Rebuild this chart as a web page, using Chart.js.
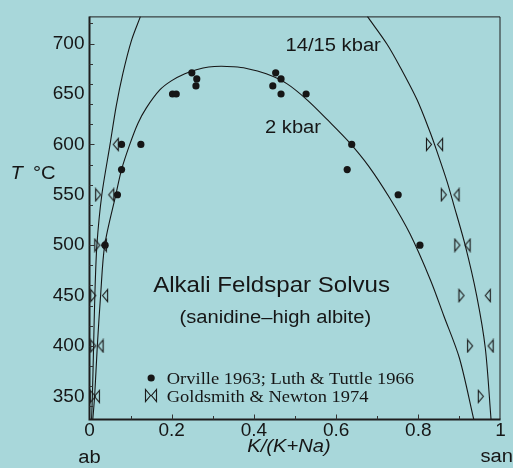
<!DOCTYPE html>
<html>
<head>
<meta charset="utf-8">
<script src="https://cdn.jsdelivr.net/npm/chart.js@4/dist/chart.umd.min.js"></script>
<style>
  html, body { margin: 0; padding: 0; background: #a8d7da; }
  #wrap { width: 513px; height: 468px; }
</style>
</head>
<body>
<div id="wrap"><canvas id="solvus" width="513" height="468"></canvas></div>
<script>
// Orville 1963; Luth & Tuttle 1966 — coexisting feldspar compositions
const orvilleK = [0.038, 0.068, 0.078, 0.078, 0.125, 0.202, 0.211, 0.249, 0.261, 0.259,
                  0.446, 0.453, 0.466, 0.466, 0.527, 0.638, 0.627, 0.751, 0.804];
const orvilleT = [500, 550, 575, 600, 600, 650, 650, 671, 665, 658,
                  658, 671, 665, 650, 650, 600, 575, 550, 500];

// Goldsmith & Newton 1974 reversal brackets (right- and left-pointing halves)
const gnRightK = [0.008, 0.009, 0.009, 0.019, 0.021, 0.952, 0.926, 0.905, 0.895, 0.862, 0.826];
const gnRightT = [350, 400, 450, 500, 550, 350, 400, 450, 500, 550, 600];
const gnLeftK  = [0.018, 0.027, 0.038, 0.035, 0.053, 0.064, 0.976, 0.969, 0.920, 0.893, 0.853];
const gnLeftT  = [350, 400, 450, 500, 550, 600, 400, 450, 500, 550, 600];

// 2 kbar solvus
const solvus2K = [0.008, 0.0125, 0.019, 0.027, 0.037, 0.064, 0.078, 0.098, 0.118, 0.138,
                  0.171, 0.199, 0.232, 0.260, 0.290, 0.320, 0.350, 0.380, 0.430, 0.480,
                  0.530, 0.580, 0.630, 0.680, 0.730, 0.780, 0.830, 0.862, 0.900, 0.935];
const solvus2T = [327, 350, 400, 450, 500, 550, 575, 600, 621, 636,
                  654, 663, 670, 674, 676.8, 677.6, 677, 675.5, 670, 660.3,
                  644, 624, 603, 578, 547, 511, 465, 430, 388, 327];

// 14/15 kbar solvus, Na-rich and K-rich limbs
const solvus15NaK = [0.005, 0.007, 0.010, 0.013, 0.018, 0.030, 0.050, 0.065, 0.081, 0.102, 0.124];
const solvus15NaT = [327, 350, 400, 450, 500, 550, 600, 638, 670, 703, 727];
const solvus15KK  = [0.676, 0.724, 0.756, 0.797, 0.829, 0.846, 0.870, 0.886, 0.914, 0.942, 0.963, 0.977];
const solvus15KT  = [727, 699.4, 676.6, 644.2, 611.8, 592.3, 563.1, 540.5, 500, 450, 398, 327];

// Axis ticks
const xTicks = [0, 0.2, 0.4, 0.6, 0.8, 1];
const xTickLabels = ['0', '0.2', '0.4', '0.6', '0.8', '1'];
const yTicks = [350, 400, 450, 500, 550, 600, 650, 700];
const yTickLabels = ['350', '400', '450', '500', '550', '600', '650', '700'];
const xTickMarks = [0.1, 0.2, 0.3, 0.4, 0.5, 0.6, 0.7, 0.8, 0.9];
const xMajorMarks = [0.2, 0.4, 0.6, 0.8];
const yTickMarks = [340, 360, 380, 400, 420, 440, 460, 480, 500, 520, 540, 560, 580,
                    600, 620, 640, 660, 680, 700, 720];
const yMajorMarks = [400, 500, 600, 700];

const INK = '#161616';
const SANS = '"Liberation Sans", Arial, Helvetica, sans-serif';
const SERIF = '"Liberation Serif", "Times New Roman", serif';
const SX = 1.12; // horizontal widening of annotation type

const toPts = (xs, ys) => xs.map((x, i) => ({ x: x, y: ys[i] }));

// open, narrow triangle markers
function triangle(dir) {
  const c = document.createElement('canvas');
  c.width = 8; c.height = 15;
  const g = c.getContext('2d');
  g.strokeStyle = '#1a1a1a';
  g.lineWidth = 1.15;
  g.beginPath();
  if (dir > 0) { g.moveTo(1.5, 1.5); g.lineTo(6.5, 7.5); g.lineTo(1.5, 13.5); }
  else         { g.moveTo(6.5, 1.5); g.lineTo(1.5, 7.5); g.lineTo(6.5, 13.5); }
  g.closePath();
  g.stroke();
  return c;
}
const triRight = triangle(1);
const triLeft = triangle(-1);

function wideText(ctx, str, x, y, font, align) {
  ctx.save();
  ctx.font = font;
  ctx.textBaseline = 'alphabetic';
  ctx.textAlign = 'left';
  const w = ctx.measureText(str).width * SX;
  const x0 = align === 'center' ? x - w / 2 : (align === 'right' ? x - w : x);
  ctx.translate(x0, y);
  ctx.scale(SX, 1);
  ctx.fillStyle = INK;
  ctx.fillText(str, 0, 0);
  ctx.restore();
}

// in-plot labels, placed in data coordinates (x = K/(K+Na), y = baseline T)
const notes = [
  { text: '14/15 kbar', x: 0.477, y: 692.7, font: '18px ' + SANS, align: 'left' },
  { text: '2 kbar', x: 0.427, y: 611.3, font: '18px ' + SANS, align: 'left' },
  { text: 'Alkali Feldspar Solvus', x: 0.443, y: 453.1, font: '21.5px ' + SANS, align: 'center' },
  { text: '(sanidine\u2013high albite)', x: 0.452, y: 422.9, font: '18px ' + SANS, align: 'center' },
  { text: 'Orville 1963; Luth & Tuttle 1966', x: 0.188, y: 362.4, font: '16.5px ' + SERIF, align: 'left' },
  { text: 'Goldsmith & Newton 1974', x: 0.188, y: 344.5, font: '16.5px ' + SERIF, align: 'left' }
];

const decor = {
  id: 'decor',
  beforeDraw(chart) {
    const ctx = chart.ctx;
    ctx.save();
    ctx.fillStyle = '#a8d7da';
    ctx.fillRect(0, 0, chart.width, chart.height);
    ctx.restore();
  },
  afterDatasetsDraw(chart) {
    const ctx = chart.ctx;
    const a = chart.chartArea;
    const xs = chart.scales.x, ys = chart.scales.y;

    // frame: heavier axes on left and bottom
    ctx.save();
    ctx.strokeStyle = '#1e1e1e';
    ctx.lineWidth = 1;
    ctx.beginPath();
    ctx.moveTo(a.left, a.top + 0.5); ctx.lineTo(a.right - 0.5, a.top + 0.5); ctx.lineTo(a.right - 0.5, a.bottom);
    ctx.stroke();
    ctx.lineWidth = 2;
    ctx.beginPath();
    ctx.moveTo(a.left, a.top); ctx.lineTo(a.left, a.bottom); ctx.lineTo(a.right, a.bottom);
    ctx.stroke();

    // inward tick marks
    ctx.lineWidth = 1;
    ctx.strokeStyle = '#333';
    ctx.beginPath();
    xTickMarks.forEach(v => {
      const px = Math.round(xs.getPixelForValue(v)) + 0.5;
      const len = xMajorMarks.includes(v) ? 5 : 3.5;
      ctx.moveTo(px, a.bottom); ctx.lineTo(px, a.bottom - len);
    });
    yTickMarks.forEach(v => {
      const py = Math.round(ys.getPixelForValue(v)) + 0.5;
      const len = yMajorMarks.includes(v) ? 5 : 3.5;
      ctx.moveTo(a.left, py); ctx.lineTo(a.left + len, py);
    });
    ctx.stroke();
    ctx.restore();

    // annotations
    notes.forEach(n => {
      wideText(ctx, n.text, xs.getPixelForValue(n.x), ys.getPixelForValue(n.y), n.font, n.align);
    });

    // key symbols
    const kx = xs.getPixelForValue(0.150);
    const k1 = ys.getPixelForValue(368.2);
    const k2 = ys.getPixelForValue(351);
    ctx.save();
    ctx.fillStyle = INK;
    ctx.beginPath();
    ctx.arc(kx, k1, 3.6, 0, Math.PI * 2);
    ctx.fill();
    ctx.drawImage(triRight, Math.round(kx - 3 - 4), Math.round(k2 - 7.5));
    ctx.drawImage(triLeft, Math.round(kx + 3 - 4), Math.round(k2 - 7.5));
    ctx.restore();

    // axis titles
    const x0 = xs.getPixelForValue(0), x1 = xs.getPixelForValue(1);
    wideText(ctx, 'ab', x0, a.bottom + 43, '18px ' + SANS, 'center');
    wideText(ctx, 'san', x1 - 20, a.bottom + 42, '18px ' + SANS, 'left');
    wideText(ctx, 'K/(K+Na)', (a.left + a.right) / 2 - 6, a.bottom + 32.5, 'italic 18px ' + SANS, 'center');
    const ty = ys.getPixelForValue(573);
    wideText(ctx, 'T', 10.5, ty + 7, 'italic 18px ' + SANS, 'left');
    wideText(ctx, '\u00B0C', 33, ty + 7, '18px ' + SANS, 'left');
  }
};

const curveStyle = { type: 'line', borderColor: INK, borderWidth: 1.1, pointRadius: 0, tension: 0.3, fill: false };

new Chart(document.getElementById('solvus'), {
  type: 'scatter',
  data: {
    datasets: [
      Object.assign({ label: '2 kbar', data: toPts(solvus2K, solvus2T) }, curveStyle),
      Object.assign({ label: '14/15 kbar (Na limb)', data: toPts(solvus15NaK, solvus15NaT) }, curveStyle),
      Object.assign({ label: '14/15 kbar (K limb)', data: toPts(solvus15KK, solvus15KT) }, curveStyle),
      { label: 'Goldsmith & Newton 1974 (lower)', data: toPts(gnRightK, gnRightT),
        pointStyle: triRight, pointRadius: 4 },
      { label: 'Goldsmith & Newton 1974 (upper)', data: toPts(gnLeftK, gnLeftT),
        pointStyle: triLeft, pointRadius: 4 },
      { label: 'Orville 1963; Luth & Tuttle 1966', data: toPts(orvilleK, orvilleT),
        pointStyle: 'circle', pointRadius: 3.6, backgroundColor: INK, borderWidth: 0 }
    ]
  },
  options: {
    responsive: false,
    animation: false,
    devicePixelRatio: 1,
    layout: { padding: { top: 8, right: 12.5, left: 0, bottom: 0 } },
    plugins: { legend: { display: false }, tooltip: { enabled: false } },
    scales: {
      x: {
        type: 'linear', position: 'bottom', min: 0, max: 1,
        grid: { display: false, drawTicks: false },
        border: { display: false },
        ticks: {
          color: INK, padding: 0, maxRotation: 0, autoSkip: false,
          font: { family: SANS, size: 19 },
          callback: v => xTickLabels[xTicks.indexOf(v)]
        },
        afterBuildTicks: s => { s.ticks = xTicks.map(v => ({ value: v })); },
        afterFit: s => { s.height = 48.5; }
      },
      y: {
        type: 'linear', position: 'left', min: 327, max: 727,
        grid: { display: false, drawTicks: false },
        border: { display: false },
        ticks: {
          color: INK, padding: 5, autoSkip: false,
          font: { family: SANS, size: 19 },
          callback: v => yTickLabels[yTicks.indexOf(v)]
        },
        afterBuildTicks: s => { s.ticks = yTicks.map(v => ({ value: v })); },
        afterFit: s => { s.width = 89.5; }
      }
    }
  },
  plugins: [decor]
});
</script>
</body>
</html>
